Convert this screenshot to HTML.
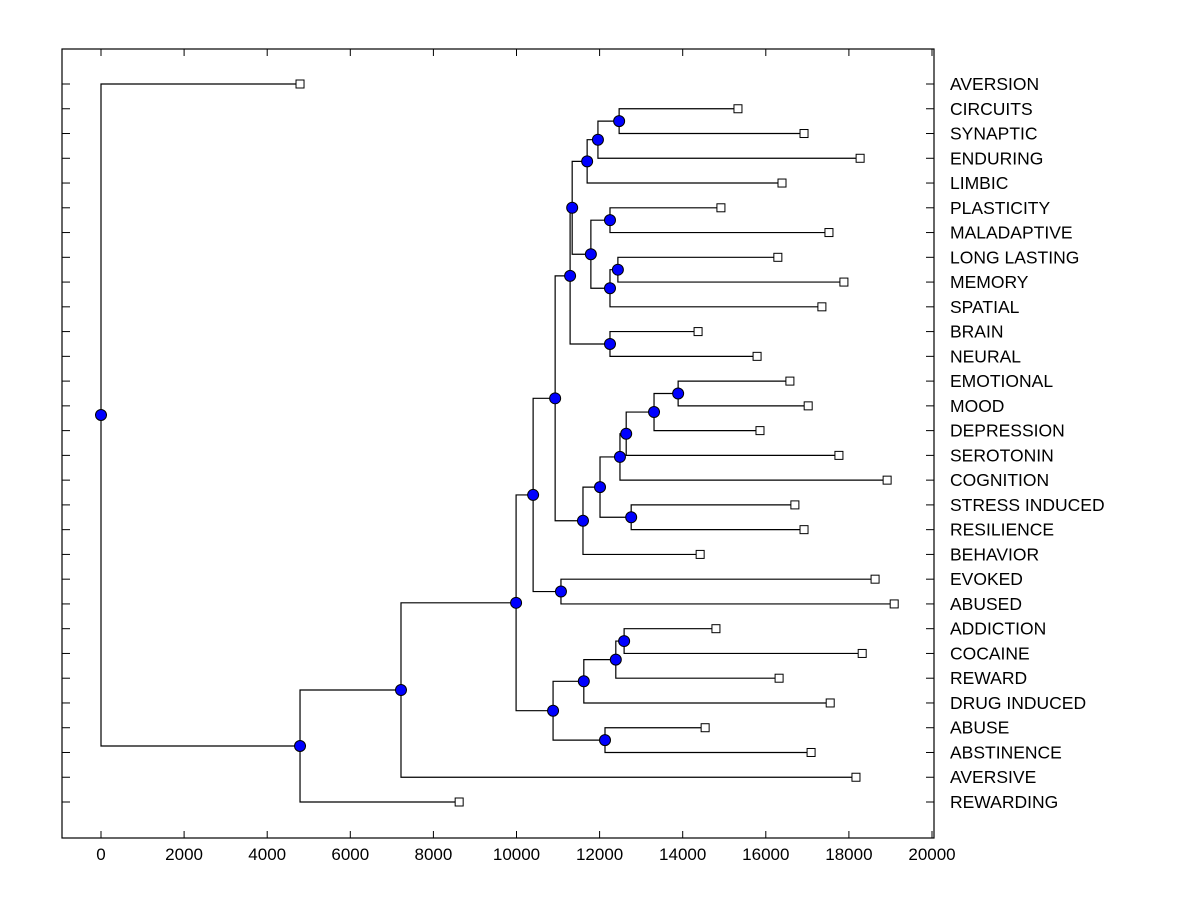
<!DOCTYPE html>
<html><head><meta charset="utf-8"><style>
body{margin:0;background:#fff}
svg{display:block}
text{font-family:"Liberation Sans",Arial,sans-serif;fill:#000}
</style></head><body>
<svg id="chart" width="1200" height="900" xmlns="http://www.w3.org/2000/svg"></svg>
<script>
const leafNames=["AVERSION","CIRCUITS","SYNAPTIC","ENDURING","LIMBIC","PLASTICITY","MALADAPTIVE","LONG LASTING","MEMORY","SPATIAL","BRAIN","NEURAL","EMOTIONAL","MOOD","DEPRESSION","SEROTONIN","COGNITION","STRESS INDUCED","RESILIENCE","BEHAVIOR","EVOKED","ABUSED","ADDICTION","COCAINE","REWARD","DRUG INDUCED","ABUSE","ABSTINENCE","AVERSIVE","REWARDING"];
const leafValues=[4790,15330,16920,18270,16390,14920,17520,16290,17880,17350,14370,15790,16580,17020,15860,17760,18920,16700,16920,14420,18630,19090,14800,18320,16320,17550,14540,17090,18170,8620];
const nodeNames=["O","N","L","P","R","Q","M","J","K","H","W","X","V","T","U","S","I","F","G","D","AB","AA","Y","Z","E","C","B","A","ROOT"];
const nodeLeft=["CIRCUITS","O","N","PLASTICITY","LONG LASTING","R","P","L","BRAIN","J","EMOTIONAL","W","X","V","STRESS INDUCED","T","S","H","EVOKED","F","ADDICTION","AB","AA","ABUSE","Y","D","C","B","AVERSION"];
const nodeRight=["SYNAPTIC","ENDURING","LIMBIC","MALADAPTIVE","MEMORY","SPATIAL","Q","M","NEURAL","K","MOOD","DEPRESSION","SEROTONIN","COGNITION","RESILIENCE","U","BEHAVIOR","I","ABUSED","G","COCAINE","REWARD","DRUG INDUCED","ABSTINENCE","Z","E","AVERSIVE","REWARDING","A"];
const nodeHeight=[12470,11960,11700,12250,12440,12250,11790,11340,12250,11290,13890,13310,12640,12490,12760,12010,11600,10930,11070,10400,12590,12390,11620,12130,10880,9990,7220,4790,0];
const xTicks=[0,2000,4000,6000,8000,10000,12000,14000,16000,18000,20000];

const svg=document.getElementById('chart');
const NS="http://www.w3.org/2000/svg";
const L=62,R=934,T=49,B=838;
function xs(v){return 101+v*0.04155;}
function ys(i){return 84+i*(802-84)/(leafNames.length-1);}
function mk(tag,attrs,parent){const e=document.createElementNS(NS,tag);for(const k in attrs)e.setAttribute(k,attrs[k]);(parent||svg).appendChild(e);return e;}

const axes=mk('g',{});


const frame=mk('rect',{x:L,y:T,width:R-L,height:B-T,fill:'none',stroke:'#000','stroke-width':1.2},axes);


xTicks.forEach(t=>{
  const x=xs(t);
  mk('line',{x1:x,y1:T,x2:x,y2:T+7,stroke:'#000'},axes);
  mk('line',{x1:x,y1:B,x2:x,y2:B-7,stroke:'#000'},axes);
  const tx=mk('text',{x:x,y:B+22,'text-anchor':'middle','font-size':17},axes);
  tx.textContent=t;
  
  
});
leafNames.forEach((n,i)=>{
  const y=ys(i);
  mk('line',{x1:L,y1:y,x2:L+8,y2:y,stroke:'#000'},axes);
  mk('line',{x1:R,y1:y,x2:R-8,y2:y,stroke:'#000'},axes);
  const tx=mk('text',{x:950,y:y+6,'font-size':17.5},axes);
  tx.textContent=n;
  
  
});

const pos={};
leafNames.forEach((n,i)=>{pos[n]={x:xs(leafValues[i]),y:ys(i)};});
const lines=mk('g',{stroke:'#000','stroke-width':1.2,fill:'none'});


const dots=[];
nodeNames.forEach((n,i)=>{
  const a=pos[nodeLeft[i]],b=pos[nodeRight[i]];
  const x=xs(nodeHeight[i]);
  const y=(a.y+b.y)/2;
  pos[n]={x:x,y:y};
  mk('path',{d:`M${a.x},${a.y}H${x}V${b.y}H${b.x}`},lines);
  dots.push([x,y,n]);
});
leafNames.forEach(n=>{
  const p=pos[n];
  const s=mk('rect',{x:p.x-4,y:p.y-4,width:8,height:8,fill:'#fff',stroke:'#000'});
  
  
});
dots.forEach(d=>{
  const c=mk('circle',{cx:d[0],cy:d[1],r:5.5,fill:'#0000ff',stroke:'#000'});
  
  
});
</script>
</body></html>
